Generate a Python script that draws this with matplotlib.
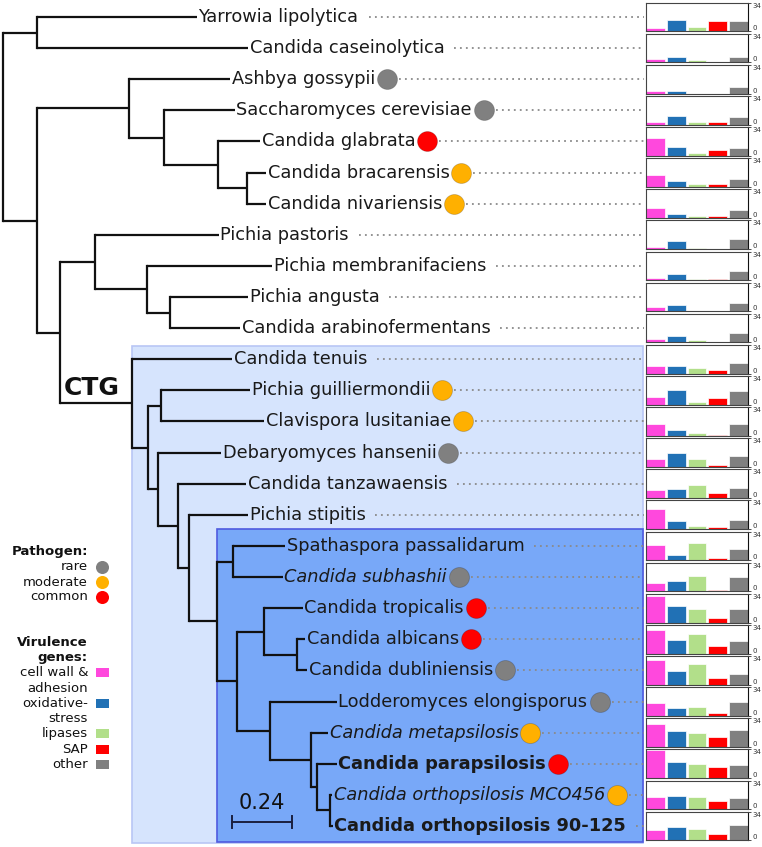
import matplotlib
matplotlib.use("Agg")
import matplotlib.pyplot as plt
from matplotlib.patches import Rectangle

# ---------------- data ----------------
# phylogeny (Newick, branch lengths in substitutions/site); internal names mark shaded clades
tree_newick = (
    "((Yarrowia lipolytica:0.64,Candida caseinolytica:0.844):0.136,"
    "((Ashbya gossypii:0.404,(Saccharomyces cerevisiae:0.284,(Candida glabrata:0.168,"
    "(Candida bracarensis:0.076,Candida nivariensis:0.076):0.116):0.216):0.14):0.368,"
    "((Pichia pastoris:0.496,(Pichia membranifaciens:0.5,(Pichia angusta:0.312,"
    "Candida arabinofermentans:0.28):0.092):0.208):0.14,"
    "(Candida tenuis:0.4,((Pichia guilliermondii:0.356,Clavispora lusitaniae:0.412):0.052,"
    "(Debaryomyces hansenii:0.252,(Candida tanzawaensis:0.272,(Pichia stipitis:0.236,"
    "((Spathaspora passalidarum:0.208,Candida subhashii:0.2):0.064,"
    "((Candida tropicalis:0.156,(Candida albicans:0.032,Candida dubliniensis:0.04):0.132):0.108,"
    "(Lodderomyces elongisporus:0.268,(Candida metapsilosis:0.068,(Candida parapsilosis:0.08,"
    "(Candida orthopsilosis MCO456:0.008,Candida orthopsilosis 90-125:0.012):0.052):0.024):0.164)"
    ":0.132):0.08)INNER:0.112):0.044):0.08):0.04):0.064)CTG:0.288):0.092):0.136);"
)

species = [
    "Yarrowia lipolytica", "Candida caseinolytica", "Ashbya gossypii", "Saccharomyces cerevisiae",
    "Candida glabrata", "Candida bracarensis", "Candida nivariensis", "Pichia pastoris",
    "Pichia membranifaciens", "Pichia angusta", "Candida arabinofermentans", "Candida tenuis",
    "Pichia guilliermondii", "Clavispora lusitaniae", "Debaryomyces hansenii", "Candida tanzawaensis",
    "Pichia stipitis", "Spathaspora passalidarum", "Candida subhashii", "Candida tropicalis",
    "Candida albicans", "Candida dubliniensis", "Lodderomyces elongisporus", "Candida metapsilosis",
    "Candida parapsilosis", "Candida orthopsilosis MCO456", "Candida orthopsilosis 90-125",
]

pathogen = {
    "Ashbya gossypii": "rare", "Saccharomyces cerevisiae": "rare", "Candida glabrata": "common",
    "Candida bracarensis": "moderate", "Candida nivariensis": "moderate",
    "Pichia guilliermondii": "moderate", "Clavispora lusitaniae": "moderate",
    "Debaryomyces hansenii": "rare", "Candida subhashii": "rare", "Candida tropicalis": "common",
    "Candida albicans": "common", "Candida dubliniensis": "rare",
    "Lodderomyces elongisporus": "rare", "Candida metapsilosis": "moderate",
    "Candida parapsilosis": "common", "Candida orthopsilosis MCO456": "moderate",
}
italic_names = ["Candida subhashii", "Candida metapsilosis", "Candida orthopsilosis MCO456"]
bold_names = ["Candida parapsilosis", "Candida orthopsilosis 90-125"]

pathogen_levels = ["rare", "moderate", "common"]
pathogen_colors = ["#808080", "#FFB000", "#FF0000"]

gene_classes = ["cell wall &\nadhesion", "oxidative-\nstress", "lipases", "SAP", "other"]
gene_colors = ["#FF48DD", "#2171B5", "#B2DF8A", "#FF0000", "#808080"]

# virulence gene counts per species (cell wall, oxidative, lipases, SAP, other)
cell_wall = [3.5, 4.3, 3.5, 3.5, 21, 14, 11.5, 3, 3, 5, 4.5, 9, 9.5, 14, 9.5, 9.5, 24, 18,
             10, 31, 27.5, 29, 15.5, 27, 33, 14, 12]
oxidative = [14, 7, 3.5, 10, 10, 7.5, 5, 10, 7, 7, 7.5, 9, 18, 7, 16.5, 11, 10, 6,
             12, 19, 16, 16, 9, 18.5, 18.5, 16, 15.5]
lipases = [5, 3.5, 0, 3, 3, 3, 2.5, 1, 1, 1, 2.5, 7, 3, 3, 9, 16, 4, 20,
           18.5, 16.5, 23, 25, 10, 16.5, 16.5, 14, 14]
sap = [12, 0, 0, 3, 7, 3, 2, 0, 1, 0, 1, 4.5, 8, 1, 2.5, 6.5, 3, 3,
       1.5, 5.5, 9, 7.5, 3, 12, 13, 10, 8]
other = [12, 7, 8, 9, 9, 9, 9.5, 12, 11, 10, 11.5, 12, 16.5, 13.5, 13, 12.5, 11, 13,
         16.5, 15.5, 15.5, 13, 16, 20.5, 16, 13, 18]
gene_max = 34
scale_len = 0.24

# ---------------- tree parsing / layout ----------------
def parse(s, i=0):
    node = {"children": [], "name": "", "len": 0.0}
    if s[i] == "(":
        i += 1
        while True:
            child, i = parse(s, i)
            node["children"].append(child)
            if s[i] == ",":
                i += 1
                continue
            if s[i] == ")":
                i += 1
                break
    j = i
    while s[i] not in ":,);":
        i += 1
    node["name"] = s[j:i].strip()
    if s[i] == ":":
        i += 1
        j = i
        while s[i] not in ",);":
            i += 1
        node["len"] = float(s[j:i])
    return node, i

root, _ = parse(tree_newick)
leaf_counter = [0]

def layout(node, x0):
    node["x"] = x0 + node["len"]
    if node["children"]:
        for c in node["children"]:
            layout(c, node["x"])
        node["y"] = 0.5 * (node["children"][0]["y"] + node["children"][-1]["y"])
        node["ymin"] = min(c["ymin"] for c in node["children"])
        node["ymax"] = max(c["ymax"] for c in node["children"])
    else:
        node["y"] = float(leaf_counter[0])
        node["ymin"] = node["ymax"] = node["y"]
        leaf_counter[0] += 1

root["len"] = 0.0
layout(root, 0.0)

def all_nodes(n):
    yield n
    for c in n["children"]:
        yield from all_nodes(c)

nodes = list(all_nodes(root))
named = {n["name"]: n for n in nodes if n["name"]}

# ---------------- figure ----------------
W, H = 762, 847
fig = plt.figure(figsize=(W / 100, H / 100), dpi=100)
ax = fig.add_axes([0, 0, 1, 1])
ax.axis("off")
PXU = 250.0   # pixels per substitution unit
X0 = 3.0
Y0 = 17.0
ROW = 31.115
ax.set_xlim(-X0 / PXU, (W - X0) / PXU)
ax.set_ylim((H - Y0) / ROW, -Y0 / ROW)

def dx(p):
    return p / PXU

def dy(p):
    return p / ROW

right_x = (643 - X0) / PXU
# shaded clades
ctg = named["CTG"]
inner = named["INNER"]
ax.add_patch(Rectangle((ctg["x"], ctg["ymin"] - dy(13)), right_x - ctg["x"],
                       (ctg["ymax"] + dy(17)) - (ctg["ymin"] - dy(13)),
                       facecolor="#D6E4FD", edgecolor="#B9C6F5", lw=1.2, zorder=0))
ax.add_patch(Rectangle((inner["x"], inner["ymin"] - dy(17)), right_x - inner["x"],
                       (inner["ymax"] + dy(16)) - (inner["ymin"] - dy(17)),
                       facecolor="#78A8F8", edgecolor="#4F5BDF", lw=1.2, zorder=0.5))

# branches
lc = "#111111"
for n in nodes:
    if n["children"]:
        ys = [c["y"] for c in n["children"]]
        ax.plot([n["x"], n["x"]], [min(ys), max(ys)], color=lc, lw=1.6,
                solid_capstyle="projecting", zorder=2)
        for c in n["children"]:
            ax.plot([n["x"], c["x"]], [c["y"], c["y"]], color=lc, lw=1.6,
                    solid_capstyle="butt", zorder=2)

# tip labels
leaves = [n for n in nodes if not n["children"]]
texts = {}
for n in leaves:
    nm = n["name"]
    style = "italic" if nm in italic_names else "normal"
    weight = "bold" if nm in bold_names else "normal"
    texts[nm] = ax.text(n["x"] + dx(1.5), n["y"], nm, fontsize=12.8, va="center", ha="left",
                        fontstyle=style, fontweight=weight, color="#1A1A1A", zorder=3)

ax.text(named["CTG"]["x"] - named["CTG"]["len"] + dx(4), ctg["y"] - dy(8), "CTG",
        fontsize=18, fontweight="bold", va="baseline", ha="left", color="#111111", zorder=3)

fig.canvas.draw()
renderer = fig.canvas.get_renderer()
inv = ax.transData.inverted()
dot_end = (644 - X0) / PXU
pcolor = dict(zip(pathogen_levels, pathogen_colors))
for n in leaves:
    nm = n["name"]
    bb = texts[nm].get_window_extent(renderer)
    xend = inv.transform((bb.x1, bb.y0))[0]
    if nm in pathogen:
        cx = xend + dx(12)
        ax.plot([cx], [n["y"]], marker="o", ms=14.4, color=pcolor[pathogen[nm]],
                mec="#00000033", mew=0.6, zorder=4)
        start = cx + dx(12)
    else:
        start = xend + dx(10)
    ax.plot([start, dot_end], [n["y"], n["y"]], color="#8A8A8A", lw=1.3,
            linestyle=(0, (1, 2.3)), zorder=1)

# scale bar
sb_x = dx(232 - X0)
sb_y = (len(leaves) - 1) - dy(4)
ax.plot([sb_x, sb_x + scale_len], [sb_y, sb_y], color="#1A2040", lw=1.4, zorder=3)
for xx in (sb_x, sb_x + scale_len):
    ax.plot([xx, xx], [sb_y - dy(6), sb_y + dy(6)], color="#1A2040", lw=1.4, zorder=3)
ax.text(sb_x + scale_len / 2, sb_y - dy(19), f"{scale_len:.2f}", fontsize=15, ha="center",
        va="center", color="#111111", zorder=3)

# bar panels
for i in range(len(species)):
    vals = [cell_wall[i], oxidative[i], lipases[i], sap[i], other[i]]
    yc = Y0 + ROW * i
    pax = fig.add_axes([646 / W, 1 - (yc + 14.35) / H, 102 / W, 28.7 / H])
    pax.bar(range(len(vals)), vals, width=0.9, color=gene_colors, edgecolor="white", lw=0.5)
    pax.set_xlim(-0.45, len(vals) - 0.55)
    pax.set_ylim(0, gene_max)
    pax.set_xticks([])
    pax.yaxis.tick_right()
    pax.set_yticks([0, gene_max])
    pax.tick_params(axis="y", labelsize=5, length=2, width=0.6, pad=1.5, colors="#333333")
    ylabs = pax.get_yticklabels()
    ylabs[0].set_verticalalignment("bottom")
    ylabs[1].set_verticalalignment("top")
    for sp in pax.spines.values():
        sp.set_color("#444444")
        sp.set_linewidth(0.8)
    pax.spines["right"].set_color("#111111")
    pax.set_facecolor("white")

# legend (pixel coordinates)
lax = fig.add_axes([0, 0, 1, 1], zorder=5)
lax.set_xlim(0, W)
lax.set_ylim(H, 0)
lax.axis("off")
lax.patch.set_alpha(0)
tx, mx = 88, 102
lax.text(tx, 552, "Pathogen:", fontsize=9.5, fontweight="bold", ha="right", va="center",
         color="#111111")
for k, (lvl, col) in enumerate(zip(pathogen_levels, pathogen_colors)):
    yy = 567 + 15 * k
    lax.text(tx, yy, lvl, fontsize=9.5, ha="right", va="center", color="#111111")
    lax.plot([mx], [yy], marker="o", ms=9.4, color=col, mew=0)
lax.text(tx, 643, "Virulence", fontsize=9.5, fontweight="bold", ha="right", va="center",
         color="#111111")
lax.text(tx, 657, "genes:", fontsize=9.5, fontweight="bold", ha="right", va="center",
         color="#111111")
yy = 673
for lab, col in zip(gene_classes, gene_colors):
    lines = lab.split("\n")
    lax.add_patch(Rectangle((mx - 6.5, yy - 4.5), 13, 9, facecolor=col, edgecolor="none"))
    for ln in lines:
        lax.text(tx, yy, ln, fontsize=9.5, ha="right", va="center", color="#111111")
        yy += 15.2

fig.savefig("out.png", dpi=100)
